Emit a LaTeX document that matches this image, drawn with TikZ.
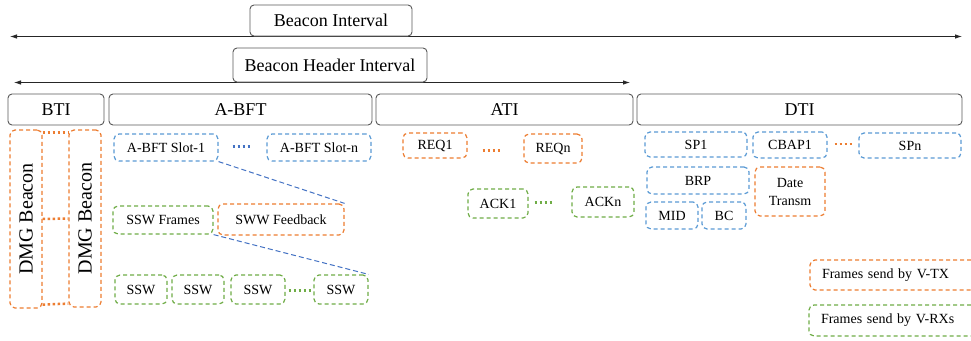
\documentclass[tikz,border=0pt]{standalone}
\usepackage{fontspec}
\usepackage{graphicx}
\setmainfont{Liberation Serif}
\usetikzlibrary{arrows.meta}
\definecolor{cor}{HTML}{ED7D31}
\definecolor{cbl}{HTML}{5B9BD5}
\definecolor{cgr}{HTML}{70AD47}
\definecolor{cln}{HTML}{4472C4}
\definecolor{cfr}{HTML}{595959}
\newcommand\mkbox[7]{\node[#6, minimum width={#4-#2}, minimum height={#5-#3}] (#1) at ({(#2+#4)/2},{(#3+#5)/2}) {#7};}
\begin{document}
\begin{tikzpicture}[x=1pt,y=-1pt,
  hdr/.style={draw=cfr, line width=0.9pt, rounded corners=4pt, fill=white, inner sep=0pt, font=\fontsize{18}{20}\selectfont},
  dbox/.style={line width=1.2pt, dash pattern=on 4pt off 3pt, rounded corners=5pt, inner sep=0pt, font=\fontsize{14}{18}\selectfont, align=center},
  ob/.style={dbox, draw=cor},
  bb/.style={dbox, draw=cbl},
  gb/.style={dbox, draw=cgr},
  dots/.style={line width=2.5pt, dash pattern=on 2.5pt off 2.5pt},
  span/.style={draw=black!85, line width=0.8pt, {Latex[length=7pt,width=4.5pt]}-{Latex[length=7pt,width=4.5pt]}},
  zoomln/.style={draw=cln, line width=1pt, dash pattern=on 5pt off 3pt},
]
\clip (0,0) rectangle (971,340);
\fill[white] (0,0) rectangle (971,340);

% spans
\coordinate (biL) at (10,36.5);
\coordinate (biR) at (962,36.5);
\coordinate (bhL) at (14,82.5);
\coordinate (bhR) at (630,82.5);
\draw[span] (biL) -- (biR);
\draw[span] (bhL) -- (bhR);
\mkbox{bi}{250}{5}{412}{36}{hdr}{Beacon Interval}
\mkbox{bhi}{233}{48}{427}{82}{hdr}{Beacon Header Interval}

% header row
\mkbox{bti}{8}{94}{104}{125}{hdr}{BTI}
\mkbox{abft}{109}{94}{372}{125}{hdr}{A-BFT}
\mkbox{ati}{376}{94}{633}{125}{hdr}{ATI}
\mkbox{dti}{637}{94}{962}{125}{hdr}{DTI}

% BTI
\mkbox{dmg1}{10}{130}{42}{308}{ob}{\fontsize{20}{22}\selectfont\rotatebox{90}{DMG Beacon}}
\mkbox{dmg2}{69}{130}{101}{307}{ob}{\fontsize{20}{22}\selectfont\rotatebox{90}{DMG Beacon}}
\draw[dots, draw=cor] ([yshift=-3pt]dmg1.north east) -- ([yshift=-3pt]dmg2.north west);
\draw[dots, draw=cor] (dmg1.east) -- (dmg2.west);
\draw[dots, draw=cor] ([yshift=4pt]dmg1.south east) -- ([yshift=4pt]dmg2.south west);

% A-BFT
\mkbox{slot1}{114}{134}{218}{161}{bb}{A-BFT Slot-1}
\mkbox{slotn}{267}{134}{371}{161}{bb}{A-BFT Slot-n}
\draw[dots, draw=cln] ([xshift=14pt,yshift=1pt]slot1.east) -- ([xshift=-15pt,yshift=1pt]slotn.west);
\mkbox{sswf}{113}{206}{213}{234}{gb}{SSW Frames}
\mkbox{sww}{218}{204}{344}{235}{ob}{SWW Feedback}
\mkbox{ssw1}{115}{275}{167}{304}{gb}{SSW}
\mkbox{ssw2}{172}{275}{224}{304}{gb}{SSW}
\mkbox{ssw3}{231}{275}{285}{304}{gb}{SSW}
\mkbox{ssw4}{314}{275}{368}{304}{gb}{SSW}
\draw[dots, draw=cgr] ([xshift=3pt,yshift=-1pt]ssw3.east) -- ([xshift=-2pt,yshift=-1pt]ssw4.west);
\draw[zoomln] (slot1.south east) -- (sww.north east);
\draw[zoomln] (sswf.south east) -- (ssw4.north east);

% ATI
\mkbox{req1}{403}{133}{467}{158}{ob}{REQ1}
\mkbox{reqn}{524}{134}{582}{163}{ob}{REQn}
\draw[dots, draw=cor] ([xshift=15pt,yshift=-5pt]req1.east) -- ([xshift=-21pt,yshift=-5pt]req1.east -| reqn.west);
\mkbox{ack1}{468}{189}{528}{218}{gb}{ACK1}
\mkbox{ackn}{572}{187}{634}{217}{gb}{ACKn}
\draw[dots, draw=cgr] ([xshift=6pt,yshift=1pt]ack1.east) -- ([xshift=-18pt,yshift=1pt]ack1.east -| ackn.west);

% DTI
\mkbox{sp1}{645}{132}{747}{157}{bb}{SP1}
\mkbox{cbap}{753}{132}{827}{158}{bb}{CBAP1}
\mkbox{spn}{859}{133}{961}{158}{bb}{SPn}
\draw[dots, draw=cor] ([xshift=7pt,yshift=1pt]cbap.east) -- ([xshift=-5pt,yshift=1pt]cbap.east -| spn.west);
\mkbox{brp}{647}{167}{749}{194}{bb}{BRP}
\mkbox{date}{755}{167}{825}{216}{ob}{Date\\Transm}
\mkbox{mid}{646}{202}{698}{229}{bb}{MID}
\mkbox{bc}{702}{202}{746}{229}{bb}{BC}

% legend
\node[ob, minimum width=180, minimum height=30, text width=156, align=left, inner xsep=12pt] (ltx) at (900,275) {Frames send by V-TX};
\node[gb, minimum width=181, minimum height=31, text width=157, align=left, inner xsep=12pt] (lrx) at (899.5,320.5) {Frames send by V-RXs};
\end{tikzpicture}
\end{document}
